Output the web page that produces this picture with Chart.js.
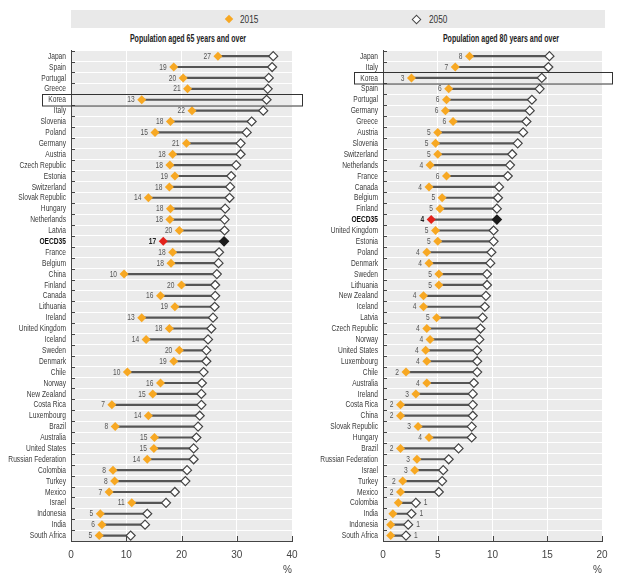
<!DOCTYPE html>
<html>
<head>
<meta charset="utf-8">
<script src="https://cdn.jsdelivr.net/npm/chart.js@4.4.1/dist/chart.umd.min.js"></script>
<style>
  html, body { margin: 0; padding: 0; background: #fff; width: 620px; height: 585px; overflow: hidden; }
  body { position: relative; font-family: 'Liberation Sans', Arial, sans-serif; color: #333; }
  .band { position: absolute; left: 71px; top: 10px; width: 534px; height: 18px; background: #e9e9e9; }
  .dia { position: absolute; width: 6px; height: 6px; transform: rotate(45deg); top: 6px; }
  .d15 { background: #f7a823; left: 155px; }
  .d50 { background: #fff; border: 1px solid #444; width: 5px; height: 5px; left: 342px; }
  .lab { position: absolute; top: 2px; font-size: 11px; line-height: 14px; color: #333; transform: scaleX(0.75); transform-origin: left center; }
  .title { position: absolute; top: 31px; width: 220px; text-align: center; font-weight: bold; font-size: 11px; line-height: 14px; color: #222; transform: scaleX(0.64); transform-origin: center center; }
  .panel { position: absolute; top: 45px; width: 310px; height: 540px; }
</style>
</head>
<body>
<div class="band">
  <i class="dia d15"></i><span class="lab" style="left:169px">2015</span>
  <i class="dia d50"></i><span class="lab" style="left:358px">2050</span>
</div>
<div class="title" style="left:78px">Population aged 65 years and over</div>
<div class="title" style="left:391px">Population aged 80 years and over</div>
<div class="panel" style="left:0"><canvas id="chart65"></canvas></div>
<div class="panel" style="left:310px"><canvas id="chart80"></canvas></div>
<script>
// Population aged 65 and over (%)
const countries65 = ['Japan', 'Spain', 'Portugal', 'Greece', 'Korea', 'Italy', 'Slovenia', 'Poland', 'Germany', 'Austria',
  'Czech Republic', 'Estonia', 'Switzerland', 'Slovak Republic', 'Hungary', 'Netherlands', 'Latvia', 'OECD35', 'France', 'Belgium',
  'China', 'Finland', 'Canada', 'Lithuania', 'Ireland', 'United Kingdom', 'Iceland', 'Sweden', 'Denmark', 'Chile',
  'Norway', 'New Zealand', 'Costa Rica', 'Luxembourg', 'Brazil', 'Australia', 'United States', 'Russian Federation', 'Colombia', 'Turkey',
  'Mexico', 'Israel', 'Indonesia', 'India', 'South Africa'];
const pop65_2015 = [26.6, 18.6, 20.3, 21.1, 12.8, 21.9, 18.0, 15.2, 20.9, 18.4,
  17.9, 18.8, 17.8, 14.0, 18.0, 17.9, 19.6, 16.7, 18.4, 18.1,
  9.6, 20.0, 16.2, 18.8, 12.8, 17.8, 13.6, 19.6, 18.6, 10.2,
  16.2, 14.8, 7.4, 14.0, 8.0, 15.1, 15.0, 13.8, 7.6, 7.9,
  6.9, 11.0, 5.3, 5.6, 5.1];
const pop65_2050 = [36.6, 36.4, 35.8, 35.6, 35.4, 34.8, 32.7, 31.8, 30.7, 30.7,
  29.9, 29.0, 28.8, 28.7, 27.9, 27.8, 27.8, 27.7, 26.8, 26.7,
  26.4, 26.1, 26.1, 26.0, 25.7, 25.4, 24.8, 24.5, 24.5, 24.0,
  23.7, 23.6, 23.6, 23.3, 23.0, 22.7, 22.2, 22.2, 21.0, 20.7,
  18.8, 17.2, 13.8, 13.4, 10.8];
const ticks65 = [0, 10, 20, 30, 40];

// Population aged 80 and over (%)
const countries80 = ['Japan', 'Italy', 'Korea', 'Spain', 'Portugal', 'Germany', 'Greece', 'Austria', 'Slovenia', 'Switzerland',
  'Netherlands', 'France', 'Canada', 'Belgium', 'Finland', 'OECD35', 'United Kingdom', 'Estonia', 'Poland', 'Denmark',
  'Sweden', 'Lithuania', 'New Zealand', 'Iceland', 'Latvia', 'Czech Republic', 'Norway', 'United States', 'Luxembourg', 'Chile',
  'Australia', 'Ireland', 'Costa Rica', 'China', 'Slovak Republic', 'Hungary', 'Brazil', 'Russian Federation', 'Israel', 'Turkey',
  'Mexico', 'Colombia', 'India', 'Indonesia', 'South Africa'];
const pop80_2015 = [7.9, 6.6, 2.6, 6.0, 5.8, 5.7, 6.4, 5.0, 4.8, 5.0,
  4.3, 5.8, 4.2, 5.4, 5.2, 4.4, 4.8, 5.0, 4.0, 4.2,
  5.1, 5.1, 3.7, 3.7, 4.9, 4.0, 4.3, 3.9, 4.0, 2.1,
  4.0, 3.0, 1.6, 1.6, 3.2, 4.2, 1.6, 3.1, 2.9, 1.8,
  1.6, 1.4, 0.9, 0.7, 0.7];
const pop80_2050 = [15.2, 15.1, 14.5, 14.3, 13.6, 13.4, 13.1, 12.8, 12.3, 11.8,
  11.6, 11.4, 10.6, 10.5, 10.4, 10.4, 10.1, 10.1, 9.9, 9.8,
  9.5, 9.5, 9.4, 9.3, 9.1, 8.9, 8.8, 8.6, 8.6, 8.6,
  8.3, 8.2, 8.2, 8.2, 8.1, 8.1, 6.9, 6.0, 5.5, 5.4,
  5.1, 3.0, 2.6, 2.3, 2.1];
const ticks80 = [0, 5, 10, 15, 20];

const highlight = 'Korea';
const average = 'OECD35';
const fontFamily = "'Liberation Sans', Arial, sans-serif";
const narrow = 0.7;   // the original uses a condensed face, so squeeze text horizontally
const orange = '#f7a823', red = '#e3221c', dark = '#1c1c1c';

Chart.defaults.font.family = fontFamily;

function squeezedText(ctx, txt, x, y, align) {
    ctx.save();
    ctx.translate(x, y);
    ctx.scale(narrow, 1);
    ctx.textAlign = align;
    ctx.fillText(txt, 0, 0);
    ctx.restore();
}

const plotBg = {
    id: 'plotBg',
    beforeDraw(chart) {
        const { ctx, chartArea: a } = chart;
        ctx.save();
        ctx.fillStyle = '#ebebeb';
        ctx.fillRect(a.left, a.top, a.right - a.left, a.bottom - a.top);
        ctx.restore();
    }
};

// country names, inward ticks on both axes, box round the highlighted country
const axisDeco = {
    id: 'axisDeco',
    afterDraw(chart) {
        const { ctx, chartArea: a, scales: { x, y } } = chart;
        const labels = chart.data.labels;
        ctx.save();
        ctx.textBaseline = 'middle';
        labels.forEach((l, i) => {
            const isAvg = l === average;
            ctx.font = (isAvg ? 'bold ' : '') + '9.5px ' + fontFamily;
            ctx.fillStyle = isAvg ? '#111' : '#3a3a3a';
            squeezedText(ctx, l, a.left - 5, y.getPixelForValue(i), 'right');
        });

        ctx.strokeStyle = '#444';
        ctx.lineWidth = 1;
        ctx.beginPath();
        const rowH = (a.bottom - a.top) / labels.length;
        for (let i = 0; i < labels.length; i++) {
            const yy = Math.round(a.top + i * rowH) + 0.5;
            ctx.moveTo(a.left, yy);
            ctx.lineTo(a.left + 4, yy);
        }
        x.ticks.forEach(t => {
            const xx = Math.round(x.getPixelForValue(t.value)) + 0.5;
            ctx.moveTo(xx, a.bottom);
            ctx.lineTo(xx, a.bottom - 5);
        });
        ctx.stroke();

        const idx = labels.indexOf(highlight);
        if (idx >= 0) {
            const cy = y.getPixelForValue(idx);
            ctx.strokeStyle = '#333';
            ctx.strokeRect(a.left - 29 + 0.5, Math.round(cy - 6) + 0.5, a.right - a.left + 39, 11.5);
        }
        ctx.restore();
    }
};

const valueLabels = {
    id: 'valueLabels',
    afterDatasetsDraw(chart) {
        const { ctx } = chart;
        const p15 = chart.getDatasetMeta(0).data;
        const p50 = chart.getDatasetMeta(1).data;
        const vals = chart.data.datasets[0].data;
        ctx.save();
        ctx.textBaseline = 'middle';
        vals.forEach((v, i) => {
            const isAvg = chart.data.labels[i] === average;
            ctx.font = (isAvg ? 'bold ' : '') + '9.5px ' + fontFamily;
            ctx.fillStyle = isAvg ? '#222' : '#555';
            const txt = String(Math.round(v));
            if (v < 1.5) {
                squeezedText(ctx, txt, p50[i].x + 8, p50[i].y, 'left');
            } else {
                squeezedText(ctx, txt, p15[i].x - 7, p15[i].y, 'right');
            }
        });
        ctx.restore();
    }
};

function makeChart(id, labels, a, b, tickVals, axisWidth) {
    new Chart(document.getElementById(id), {
        type: 'bar',
        data: {
            labels: labels,
            datasets: [{
                type: 'line',
                label: '2015',
                indexAxis: 'y',
                data: a,
                showLine: false,
                pointStyle: 'rectRot',
                pointRadius: 4.5,
                pointBackgroundColor: labels.map(l => l === average ? red : orange),
                pointBorderColor: labels.map(l => l === average ? red : orange),
                pointBorderWidth: 0,
                order: 1
            }, {
                type: 'line',
                label: '2050',
                indexAxis: 'y',
                data: b,
                showLine: false,
                pointStyle: 'rectRot',
                pointRadius: 4.5,
                pointBackgroundColor: labels.map(l => l === average ? dark : '#fff'),
                pointBorderColor: labels.map(l => l === average ? dark : '#444'),
                pointBorderWidth: 1.2,
                order: 2
            }, {
                type: 'bar',
                label: 'gap',
                indexAxis: 'y',
                data: a.map((v, i) => [v, b[i]]),
                backgroundColor: '#555',
                barThickness: 1.5,
                order: 3
            }]
        },
        options: {
            indexAxis: 'y',
            responsive: true,
            maintainAspectRatio: false,
            animation: false,
            events: [],
            layout: { padding: { top: 4.5, right: 18, left: 0, bottom: 0 } },
            plugins: { legend: { display: false }, tooltip: { enabled: false } },
            scales: {
                x: {
                    type: 'linear',
                    min: tickVals[0],
                    max: tickVals[tickVals.length - 1],
                    afterBuildTicks: s => { s.ticks = tickVals.map(v => ({ value: v })); },
                    ticks: { padding: 8, color: '#444', font: { size: 10 } },
                    grid: { color: '#fff', drawTicks: false },
                    border: { color: '#444' },
                    title: { display: true, text: '%', align: 'end', color: '#444', font: { size: 10 }, padding: { top: 0, bottom: 9 } },
                    afterFit: s => { s.height = 44; }
                },
                y: {
                    type: 'category',
                    ticks: { display: false, autoSkip: false },
                    grid: { color: '#fff', offset: true, drawTicks: false },
                    border: { color: '#444' },
                    afterFit: s => { s.width = axisWidth; }
                }
            }
        },
        plugins: [plotBg, valueLabels, axisDeco]
    });
}

makeChart('chart65', countries65, pop65_2015, pop65_2050, ticks65, 71);
makeChart('chart80', countries80, pop80_2015, pop80_2050, ticks80, 73);
</script>
</body>
</html>
